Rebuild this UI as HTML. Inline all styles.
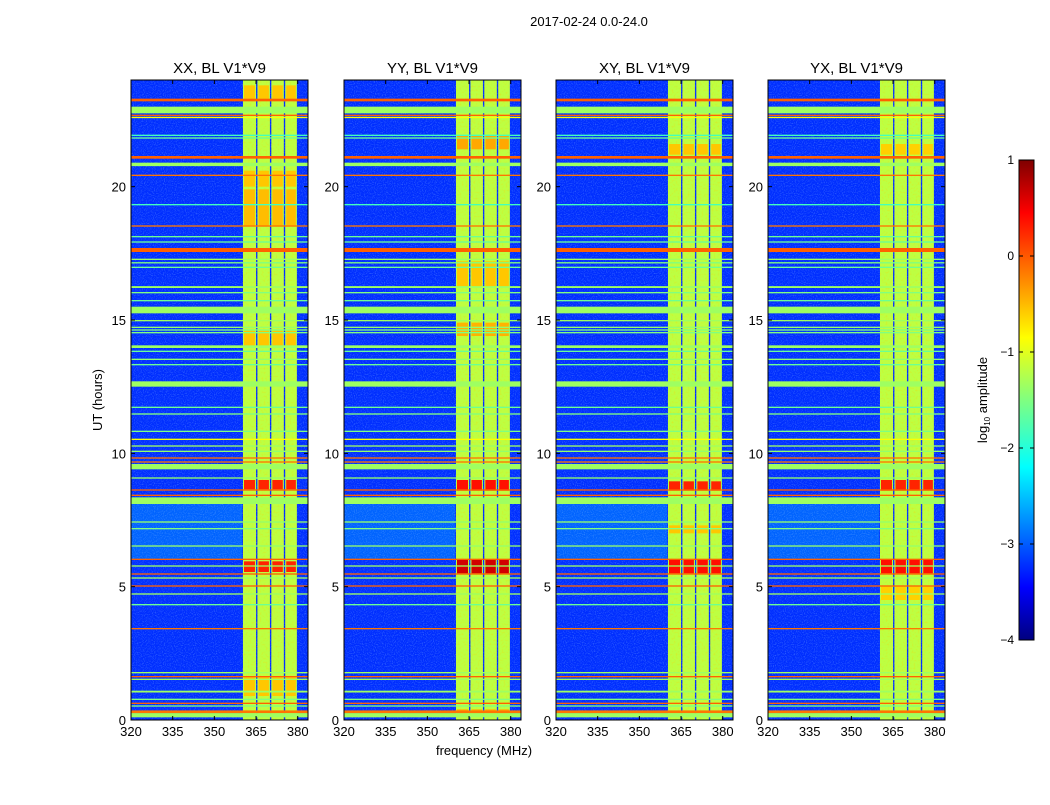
<!DOCTYPE html>
<html><head><meta charset="utf-8"><style>
body{margin:0;background:#fff;font-family:"Liberation Sans",sans-serif;}
svg text{font-family:"Liberation Sans",sans-serif;fill:#000;}
</style></head><body>
<svg id="fig" width="1050" height="800" xmlns="http://www.w3.org/2000/svg">
<defs>
<filter id="noise" x="0" y="0" width="100%" height="100%">
<feTurbulence type="fractalNoise" baseFrequency="0.9" numOctaves="1" seed="3"/>
<feColorMatrix type="matrix" values="0 0 0 0 0.3  0 0 0 0 0.6  0 0 0 0 1  0 0 0 1.6 -0.75"/>
</filter>
<filter id="noise2" x="0" y="0" width="100%" height="100%">
<feTurbulence type="fractalNoise" baseFrequency="0.5" numOctaves="1" seed="7"/>
<feColorMatrix type="matrix" values="0 0 0 0 1  0 0 0 0 0.6  0 0 0 0 0  0 0 0 1.8 -0.9"/>
</filter>
<linearGradient id="cbgrad" x1="0" y1="1" x2="0" y2="0">
<stop offset="0" stop-color="#00007f"/><stop offset="0.11" stop-color="#0000ff"/>
<stop offset="0.36" stop-color="#00ffff"/><stop offset="0.5" stop-color="#80ff80"/>
<stop offset="0.63" stop-color="#ffff00"/><stop offset="0.89" stop-color="#ff0000"/>
<stop offset="1" stop-color="#7f0000"/></linearGradient>
</defs>
<text x="589" y="26" font-size="13" text-anchor="middle">2017-02-24 0.0-24.0</text>
<text x="484" y="755" font-size="13" text-anchor="middle">frequency (MHz)</text>
<text x="102" y="400" font-size="13" text-anchor="middle" transform="rotate(-90 102 400)">UT (hours)</text>
</svg>
<script>
const panelTitles = ["XX, BL V1*V9","YY, BL V1*V9","XY, BL V1*V9","YX, BL V1*V9"];
const xTicks = [320,335,350,365,380];
const yTicks = [0,5,10,15,20];
const cbTicks = [-4,-3,-2,-1,0,1];
const bgLevel = -3.15;
const lightRegion = [6.0, 8.2, -2.5];
const bandCols = [[360.3,365.0],[365.5,370.0],[370.5,375.0],[375.5,379.7]];
const bandLevel = -1.2;
// horizontal RFI lines: [startHour, endHour, log amplitude]
const lineStart = [23.2,22.75,22.65,22.57,21.9,21.8,21.05,20.77,20.4,19.3,18.5,18.1,17.9,17.55,17.25,17.12,16.95,16.2,16.0,15.7,15.25,14.95,14.7,14.6,14.5,13.95,13.8,13.5,13.3,12.5,11.7,11.45,10.8,10.5,10.25,10.05,9.8,9.65,9.4,9.05,8.6,8.4,8.1,7.4,7.15,6.5,6.0,5.75,5.45,5.3,5.0,4.7,4.3,3.4,1.75,1.6,1.5,1.03,0.75,0.6,0.5,0.1,0.26];
const lineEnd   = [23.3,23.0,22.7,22.62,21.95,21.85,21.15,20.9,20.45,19.35,18.55,18.15,17.95,17.7,17.3,17.17,17.0,16.27,16.05,15.75,15.5,15.0,14.75,14.65,14.55,14.05,13.85,13.55,13.35,12.7,11.75,11.5,10.85,10.55,10.3,10.1,9.85,9.7,9.6,9.1,8.65,8.45,8.35,7.45,7.2,6.55,6.05,5.8,5.5,5.35,5.05,4.75,4.35,3.45,1.8,1.65,1.55,1.1,0.8,0.65,0.55,0.26,0.36];
const lineLevel = [-0.1,-1.35,-0.1,-0.9,-1.8,-1.6,-0.1,-1.35,-0.2,-1.8,-0.2,-1.6,-1.6,-0.1,-1.35,-1.5,-1.6,-1.35,-1.5,-1.6,-1.35,-1.35,-1.4,-1.5,-1.5,-1.35,-1.6,-1.4,-1.6,-1.35,-1.6,-1.5,-1.5,-0.9,-1.35,-1.4,-0.2,-0.2,-1.35,-1.4,-0.1,-0.1,-1.35,-1.4,-1.5,-1.4,-0.1,-1.35,-0.1,-1.35,-0.1,-1.35,-1.6,-0.2,-1.35,-0.1,-1.35,-1.35,-1.5,-0.1,-1.5,-1.35,-0.2];
// bright patches inside the band per panel: [startHour,endHour,level]
const patchesXX = [[5.55,5.95,0.2],[8.65,9.0,0.2],[18.5,19.9,-0.55],[20.0,20.6,-0.6],[23.3,23.8,-0.6],[14.0,14.6,-0.6],[0.9,1.6,-0.6]];
const patchesYY = [[5.5,6.0,0.6],[8.6,9.0,0.3],[21.4,21.9,-0.45],[16.2,17.2,-0.6],[14.4,14.9,-0.5],[0.2,0.4,-0.5]];
const patchesXY = [[5.5,6.0,0.3],[8.6,8.95,0.2],[21.2,21.6,-0.6],[7.0,7.3,-0.6]];
const patchesYX = [[5.5,6.0,0.3],[8.6,9.0,0.2],[21.2,21.6,-0.65],[4.5,5.0,-0.65]];
const panelPatches = [patchesXX,patchesYY,patchesXY,patchesYX];

const NS="http://www.w3.org/2000/svg";
const svg=document.getElementById('fig');
const X0=[131,344,556,768], PW=177, PT=80, PB=720;
const FMIN=320, FMAX=383.7, HMAX=24;
function jet(v){const t=Math.max(0,Math.min(1,(v+4)/5));const c=x=>Math.round(255*Math.max(0,Math.min(1,1.5-Math.abs(x))));return `rgb(${c(4*t-3)},${c(4*t-2)},${c(4*t-1)})`;}
function mk(tag,attrs,parent){const e=document.createElementNS(NS,tag);for(const k in attrs)e.setAttribute(k,attrs[k]);(parent||svg).appendChild(e);return e;}
const yS=h=>PB-(h/HMAX)*(PB-PT);

X0.forEach((x0,p)=>{
  const xS=f=>x0+(f-FMIN)/(FMAX-FMIN)*PW;
  const g=mk('g',{});
  
  
  const bg=mk('rect',{x:x0,y:PT,width:PW,height:PB-PT,fill:jet(bgLevel)},g);
  
  
  const lr=mk('rect',{x:x0,y:yS(lightRegion[1]),width:xS(360)-x0,height:yS(lightRegion[0])-yS(lightRegion[1]),fill:jet(lightRegion[2]),opacity:0.4},g);
  
  
  mk('rect',{x:x0,y:PT,width:PW,height:PB-PT,filter:'url(#noise)',opacity:0.6},g);
  bandCols.forEach(c=>{
    const r=mk('rect',{x:xS(c[0]),y:PT,width:xS(c[1])-xS(c[0]),height:PB-PT,fill:jet(bandLevel)},g);
    
    
    mk('rect',{x:xS(c[0]),y:PT,width:xS(c[1])-xS(c[0]),height:PB-PT,filter:'url(#noise2)',opacity:0.5},g);
    panelPatches[p].forEach(pt=>{
      const q=mk('rect',{x:xS(c[0])+1,y:yS(pt[1]),width:xS(c[1])-xS(c[0])-2,height:yS(pt[0])-yS(pt[1]),fill:jet(pt[2])},g);
      
      
    });
  });
  lineStart.forEach((s,i)=>{
    const h=Math.max(1,yS(s)-yS(lineEnd[i]));
    const l=mk('rect',{x:x0,y:yS(lineEnd[i]),width:PW,height:h,fill:jet(lineLevel[i])},g);
    
    
  });
  const fr=mk('rect',{x:x0,y:PT,width:PW,height:PB-PT,fill:'none',stroke:'#000','stroke-width':1},g);
  
  
  const t=mk('text',{x:x0+PW/2,y:73,'font-size':15,'text-anchor':'middle'},g);
  t.textContent=panelTitles[p];
  
  
  xTicks.forEach(v=>{
    const x=xS(v);
    mk('line',{x1:x,x2:x,y1:PB,y2:PB-4,stroke:'#000'},g);
    mk('line',{x1:x,x2:x,y1:PT,y2:PT+4,stroke:'#000'},g);
    const tl=mk('text',{x:x,y:PB+16,'font-size':13,'text-anchor':'middle'},g);
    tl.textContent=v;
    
    
  });
  yTicks.forEach(v=>{
    const y=yS(v);
    mk('line',{x1:x0,x2:x0+4,y1:y,y2:y,stroke:'#000'},g);
    mk('line',{x1:x0+PW,x2:x0+PW-4,y1:y,y2:y,stroke:'#000'},g);
    const tl=mk('text',{x:x0-5,y:y+5,'font-size':13,'text-anchor':'end'},g);
    tl.textContent=v;
    
    
  });
});
// colorbar
const CB={x:1019,w:15,top:160,bot:640};
const cbs=v=>CB.bot-(v+4)/5*(CB.bot-CB.top);
const cb=mk('rect',{x:CB.x,y:CB.top,width:CB.w,height:CB.bot-CB.top,fill:'url(#cbgrad)',stroke:'#000'});


cbTicks.forEach(v=>{
  const y=cbs(v);
  mk('line',{x1:CB.x,x2:CB.x+4,y1:y,y2:y,stroke:'#000'});
  mk('line',{x1:CB.x+CB.w,x2:CB.x+CB.w-4,y1:y,y2:y,stroke:'#000'});
  const tl=mk('text',{x:CB.x-5,y:y+4,'font-size':12,'text-anchor':'end'});
  tl.textContent=(v<0?'\u2212'+(-v):v);
  
  
});
const cl=mk('text',{x:987,y:400,'font-size':13,'text-anchor':'middle',transform:'rotate(-90 987 400)'});
cl.innerHTML='log<tspan font-size="8" dy="3">10</tspan><tspan dy="-3"> amplitude</tspan>';


</script>
</body></html>
